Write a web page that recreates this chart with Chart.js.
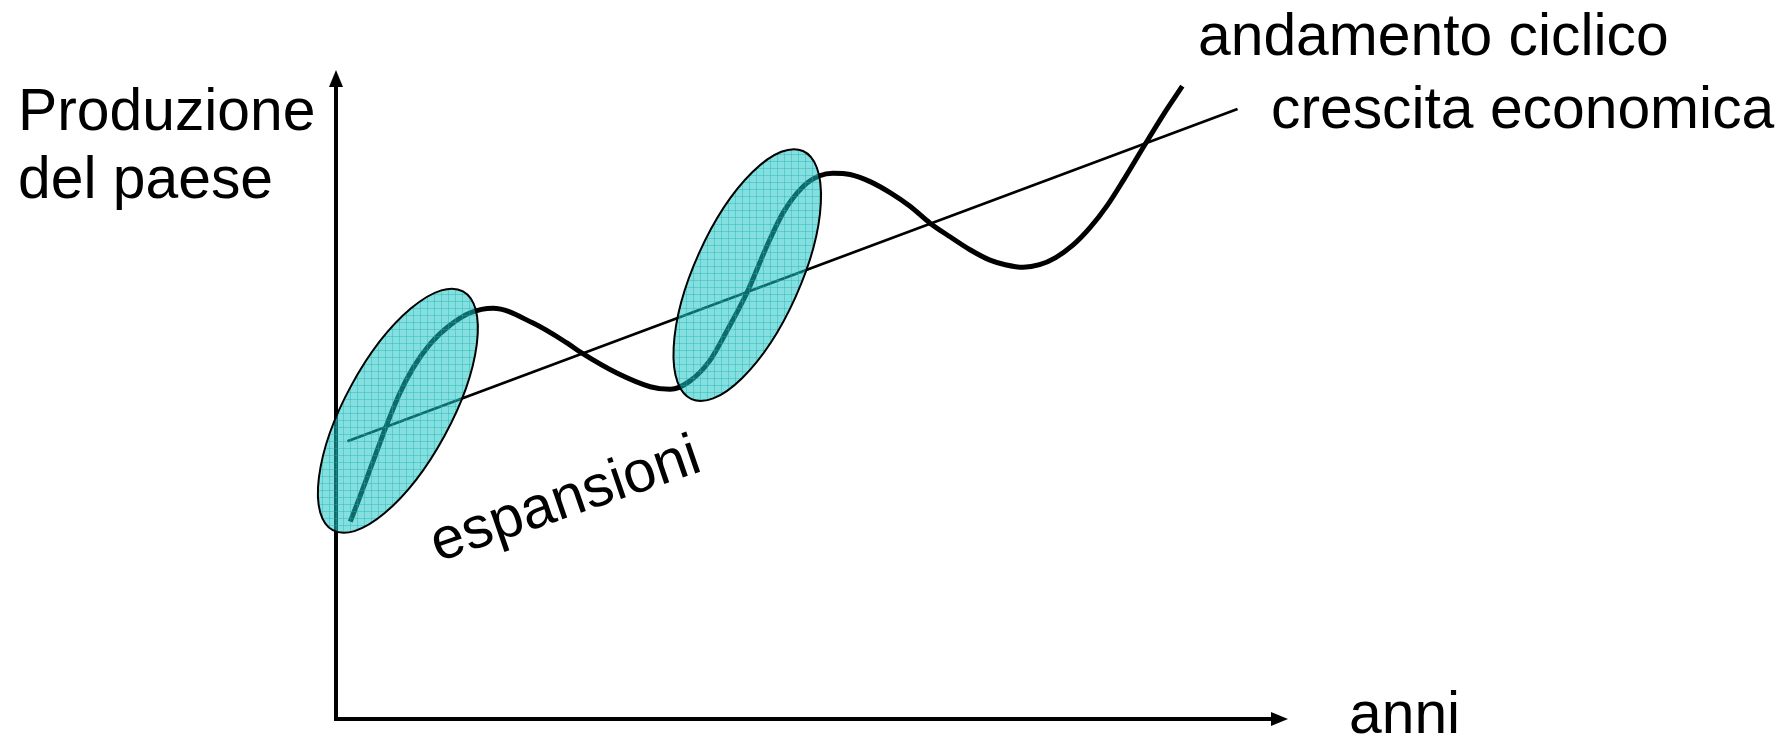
<!DOCTYPE html>
<html>
<head>
<meta charset="utf-8">
<script src="https://cdn.jsdelivr.net/npm/chart.js@4/dist/chart.umd.min.js"></script>
<style>
  html, body { margin: 0; padding: 0; background: #ffffff; }
  #wrap { position: relative; width: 1781px; height: 739px; }
</style>
</head>
<body>
<div id="wrap"><canvas id="c"></canvas></div>
<script>
// ---- data ----
// cyclical output path ("andamento ciclico")
const cycleX = [1.5, 2.7, 4.1, 5.4, 6.7, 8.1, 9.9, 12.0, 14.1, 16.5,
                20.7, 24.3, 25.8, 29.5, 33.0, 35.1,
                37.2, 39.3, 41.1, 43.2, 45.3, 47.0, 49.1, 50.8, 52.2,
                54.0, 56.1, 58.2, 60.3, 62.4, 64.5, 66.6, 68.7, 70.3, 72.2,
                73.9, 75.6, 77.4, 79.2, 81.0, 82.7, 84.8, 86.9, 88.9];
const cycleY = [30.4, 35.0, 40.5, 45.6, 50.2, 54.1, 57.8, 60.7, 62.6, 63.3,
                61.0, 57.9, 56.4, 53.3, 51.2, 50.8,
                52.1, 55.3, 59.9, 65.8, 73.0, 78.1, 82.1, 83.7, 84.1,
                83.9, 82.8, 81.1, 79.0, 76.4, 74.3, 72.3, 70.7, 70.0, 69.6,
                70.0, 71.1, 73.0, 75.7, 79.1, 83.0, 88.1, 93.1, 97.5];
// trend line ("crescita economica")
const trendX = [1.2, 94.7];
const trendY = [42.8, 94.0];
// expansion phases (centres of the highlighted ellipses)
const expansionX = [6.5, 43.2];
const expansionY = [47.5, 68.4];
// texts
const yAxisTitle = ["Produzione", "del paese"];
const xAxisTitle = "anni";
const cycleLabel = "andamento ciclico";
const trendLabel = "crescita economica";
const expansionLabel = "espansioni";

// ---- helpers ----
function makePattern(ctx) {
  const p = document.createElement('canvas');
  p.width = 7; p.height = 7;
  const g = p.getContext('2d');
  g.fillStyle = 'rgba(30,196,196,0.54)';
  g.fillRect(0, 0, 7, 7);
  g.fillStyle = 'rgba(20,180,180,0.38)';
  g.fillRect(0, 0, 7, 1);
  g.fillRect(0, 0, 1, 7);
  return ctx.createPattern(p, 'repeat');
}

const FONT = '58.8px "Liberation Sans", Arial, sans-serif';

const axesPlugin = {
  id: 'arrowAxes',
  beforeDatasetsDraw(chart) {
    const {ctx, scales: {x, y}} = chart;
    const x0 = x.getPixelForValue(0), x1 = x.getPixelForValue(100);
    const y0 = y.getPixelForValue(0), y1 = y.getPixelForValue(100);
    ctx.save();
    ctx.strokeStyle = '#000'; ctx.fillStyle = '#000';
    ctx.lineWidth = 4; ctx.lineCap = 'butt';
    ctx.beginPath();
    ctx.moveTo(x0, y0 + 2);
    ctx.lineTo(x0, y1 + 12);
    ctx.moveTo(x0 - 2, y0);
    ctx.lineTo(x1 - 12, y0);
    ctx.stroke();
    // arrow heads
    ctx.beginPath();
    ctx.moveTo(x0, y1);
    ctx.lineTo(x0 - 7, y1 + 17);
    ctx.lineTo(x0 + 7, y1 + 17);
    ctx.closePath(); ctx.fill();
    ctx.beginPath();
    ctx.moveTo(x1, y0);
    ctx.lineTo(x1 - 17, y0 - 7);
    ctx.lineTo(x1 - 17, y0 + 7);
    ctx.closePath(); ctx.fill();
    ctx.restore();
  }
};

const ellipsePlugin = {
  id: 'expansions',
  afterDatasetsDraw(chart, args, opts) {
    const {ctx, scales: {x, y}} = chart;
    const pat = makePattern(ctx);
    ctx.save();
    expansionX.forEach((v, i) => {
      const cx = x.getPixelForValue(v), cy = y.getPixelForValue(expansionY[i]);
      const rot = opts.angles[i] * Math.PI / 180;
      ctx.beginPath();
      ctx.ellipse(cx, cy, opts.rx, opts.ry, rot, 0, Math.PI * 2);
      ctx.fillStyle = pat;
      ctx.fill();
      ctx.lineWidth = 2;
      ctx.strokeStyle = '#000';
      ctx.stroke();
    });
    ctx.restore();
  }
};

const textPlugin = {
  id: 'texts',
  afterDraw(chart) {
    const {ctx} = chart;
    ctx.save();
    ctx.fillStyle = '#000';
    ctx.font = FONT;
    ctx.textAlign = 'left';
    ctx.textBaseline = 'alphabetic';
    ctx.fillText(yAxisTitle[0], 18, 130);
    ctx.fillText(yAxisTitle[1], 18, 198);
    ctx.fillText(cycleLabel, 1198, 55);
    ctx.fillText(trendLabel, 1271, 128);
    ctx.fillText(xAxisTitle, 1349, 733);
    ctx.translate(438, 562);
    ctx.rotate(-19 * Math.PI / 180);
    ctx.fillText(expansionLabel, 0, 0);
    ctx.restore();
  }
};

new Chart(document.getElementById('c'), {
  type: 'line',
  data: {
    datasets: [
      {
        label: cycleLabel,
        data: cycleX.map((v, i) => ({x: v, y: cycleY[i]})),
        borderColor: '#000',
        borderWidth: 5,
        pointRadius: 0,
        cubicInterpolationMode: 'monotone',
        fill: false
      },
      {
        label: trendLabel,
        data: trendX.map((v, i) => ({x: v, y: trendY[i]})),
        borderColor: '#000',
        borderWidth: 2.8,
        pointRadius: 0,
        tension: 0,
        fill: false
      }
    ]
  },
  options: {
    responsive: true,
    maintainAspectRatio: false,
    animation: false,
    events: [],
    layout: { padding: { left: 336, right: 493, top: 70, bottom: 20 } },
    scales: {
      x: { type: 'linear', min: 0, max: 100, display: false },
      y: { type: 'linear', min: 0, max: 100, display: false }
    },
    plugins: {
      legend: { display: false },
      tooltip: { enabled: false },
      expansions: { rx: 136, ry: 53, angles: [-61.4, -65.8] }
    }
  },
  plugins: [axesPlugin, ellipsePlugin, textPlugin]
});
</script>
</body>
</html>
